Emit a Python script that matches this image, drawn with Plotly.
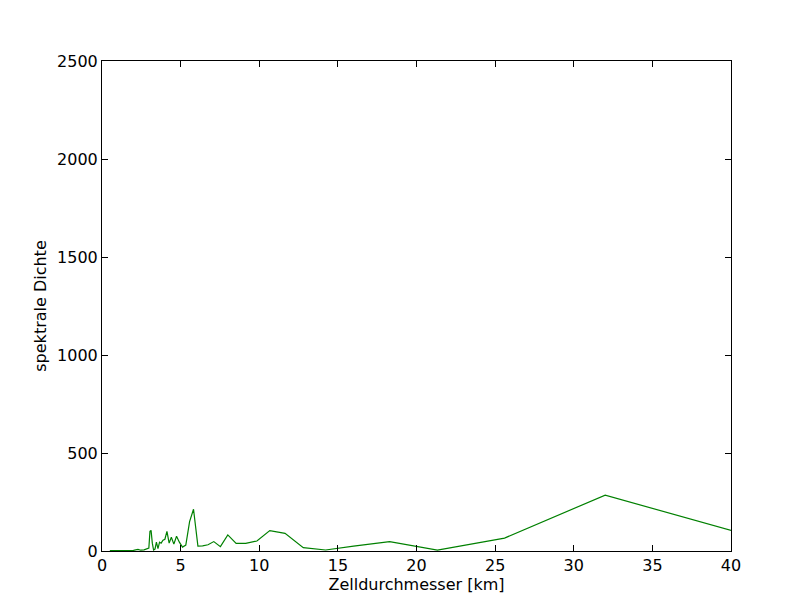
import plotly.graph_objects as go

# Zelldurchmesser [km]
x_km = [0.5, 1.0, 1.5, 2.0, 2.29, 2.46, 2.67, 2.91, 2.98, 3.05, 3.12, 3.2, 3.28, 3.37,
        3.46, 3.56, 3.66, 3.76, 3.88, 4.0, 4.13, 4.27, 4.41, 4.57, 4.74, 4.92, 5.12,
        5.33, 5.57, 5.82, 6.1, 6.4, 6.74, 7.11, 7.53, 8.0, 8.53, 9.14, 9.85, 10.67,
        11.64, 12.8, 14.22, 16.0, 18.29, 21.33, 25.6, 32.0, 42.67]
# spektrale Dichte
density = [2, 2, 2, 3, 8, 4, 6, 12, 15, 100, 105, 40, 5, 10,
           45, 12, 45, 40, 55, 60, 100, 40, 70, 35, 75, 45, 20,
           30, 150, 213, 25, 26, 32, 48, 22, 82, 39, 39, 51, 104,
           90, 17, 5, 25, 48, 5, 66, 285, 45]

x_ticks = [0, 5, 10, 15, 20, 25, 30, 35, 40]
y_ticks = [0, 500, 1000, 1500, 2000, 2500]

fig = go.Figure(go.Scatter(x=x_km, y=density, mode="lines",
                           line=dict(color="#008000", width=1.2),
                           showlegend=False))

axis_common = dict(showgrid=False, zeroline=False, showline=True, linecolor="black",
                   linewidth=1, mirror="allticks", ticks="inside", ticklen=6,
                   tickcolor="black", tickwidth=1,
                   tickfont=dict(family="DejaVu Sans", size=16, color="black"))

fig.update_layout(
    width=800, height=600,
    margin=dict(l=94, r=77, t=53, b=57),
    paper_bgcolor="white", plot_bgcolor="white",
    font=dict(family="DejaVu Sans", size=16, color="black"),
    xaxis=dict(range=[0, 40], tickvals=x_ticks, ticktext=[str(v) for v in x_ticks],
               title=dict(text="Zelldurchmesser [km]", standoff=0,
                          font=dict(family="DejaVu Sans", size=16)),
               **axis_common),
    yaxis=dict(range=[0, 2500], tickvals=y_ticks, ticktext=[str(v) for v in y_ticks],
               title=dict(text="spektrale Dichte", standoff=6,
                          font=dict(family="DejaVu Sans", size=16)),
               **axis_common),
)

fig.write_html("out.html")
